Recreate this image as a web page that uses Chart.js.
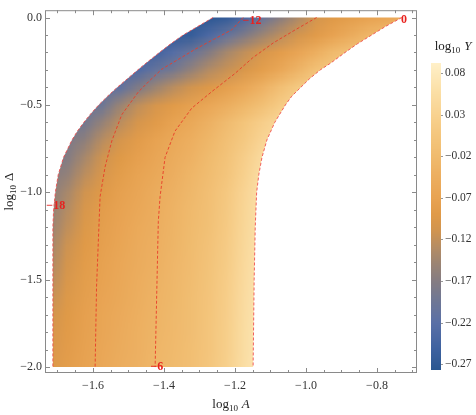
<!DOCTYPE html>
<html>
<head>
<meta charset="utf-8">
<script src="https://cdn.jsdelivr.net/npm/chart.js@4.4.1/dist/chart.umd.min.js"></script>
<style>
html, body { margin: 0; padding: 0; background: #fff; }
</style>
</head>
<body>
<canvas id="myChart" width="476" height="415"></canvas>
<script>
// columns: log10 A, rows: log10 Delta
var gridA = [-1.725, -1.675, -1.625, -1.575, -1.525, -1.475, -1.425, -1.375, -1.325, -1.275, -1.225,
	-1.175, -1.125, -1.075, -1.025, -0.975, -0.925, -0.875, -0.825, -0.775, -0.725];
var gridD = [0, -0.1, -0.2, -0.3, -0.4, -0.5, -0.6, -0.7, -0.8, -0.9, -1.0,
	-1.1, -1.2, -1.3, -1.4, -1.5, -1.6, -1.7, -1.8, -1.9, -2.0];
var _ = null;
// log10 Y (null = outside the region)
var logY = [
	[_, _, _, _, _, _, _, _, _, -0.27, -0.262, -0.235, -0.2, -0.165, -0.135, -0.105, -0.09, -0.08, -0.07, -0.06, -0.05],
	[_, _, _, _, _, _, _, -0.265, -0.26, -0.235, -0.205, -0.175, -0.148, -0.125, -0.105, -0.087, -0.07, -0.05, -0.03, -0.02, _],
	[_, _, _, _, _, _, -0.245, -0.225, -0.2, -0.17, -0.14, -0.12, -0.1, -0.083, -0.065, -0.043, -0.02, -0.005, _, _, _],
	[_, _, _, _, _, -0.23, -0.205, -0.185, -0.155, -0.13, -0.115, -0.098, -0.08, -0.058, -0.032, -0.005, 0.01, _, _, _, _],
	[_, _, _, -0.215, -0.21, -0.175, -0.148, -0.125, -0.108, -0.093, -0.077, -0.058, -0.036, -0.01, 0.013, 0.022, _, _, _, _, _],
	[_, _, -0.2, -0.195, -0.15, -0.122, -0.103, -0.088, -0.074, -0.06, -0.045, -0.028, -0.008, 0.015, 0.032, _, _, _, _, _, _],
	[_, -0.19, -0.188, -0.155, -0.125, -0.103, -0.087, -0.071, -0.056, -0.039, -0.019, 0.002, 0.022, 0.04, _, _, _, _, _, _, _],
	[_, -0.18, -0.162, -0.127, -0.102, -0.085, -0.07, -0.056, -0.043, -0.028, -0.008, 0.012, 0.035, 0.045, _, _, _, _, _, _, _],
	[-0.175, -0.172, -0.14, -0.11, -0.091, -0.076, -0.063, -0.05, -0.036, -0.02, -0.001, 0.022, 0.048, 0.052, _, _, _, _, _, _, _],
	[-0.17, -0.157, -0.124, -0.099, -0.082, -0.068, -0.056, -0.044, -0.03, -0.015, 0.004, 0.028, 0.055, _, _, _, _, _, _, _, _],
	[-0.165, -0.14, -0.11, -0.09, -0.075, -0.062, -0.05, -0.038, -0.025, -0.01, 0.01, 0.035, 0.06, _, _, _, _, _, _, _, _],
	[-0.16, -0.13, -0.1, -0.083, -0.07, -0.058, -0.047, -0.035, -0.022, -0.008, 0.012, 0.038, 0.062, _, _, _, _, _, _, _, _],
	[-0.155, -0.122, -0.095, -0.079, -0.067, -0.055, -0.044, -0.033, -0.02, -0.006, 0.014, 0.04, 0.063, _, _, _, _, _, _, _, _],
	[-0.147, -0.113, -0.09, -0.076, -0.064, -0.052, -0.042, -0.031, -0.018, -0.004, 0.016, 0.043, 0.065, _, _, _, _, _, _, _, _],
	[-0.14, -0.106, -0.086, -0.073, -0.061, -0.05, -0.04, -0.029, -0.017, -0.002, 0.018, 0.045, 0.067, _, _, _, _, _, _, _, _],
	[-0.13, -0.1, -0.082, -0.07, -0.058, -0.047, -0.037, -0.027, -0.015, 0.0, 0.02, 0.048, 0.07, _, _, _, _, _, _, _, _],
	[-0.12, -0.095, -0.079, -0.067, -0.056, -0.045, -0.035, -0.026, -0.014, 0.001, 0.021, 0.05, 0.071, _, _, _, _, _, _, _, _],
	[-0.11, -0.091, -0.076, -0.064, -0.054, -0.043, -0.033, -0.024, -0.013, 0.002, 0.022, 0.051, 0.072, _, _, _, _, _, _, _, _],
	[-0.104, -0.088, -0.074, -0.062, -0.052, -0.041, -0.031, -0.023, -0.012, 0.003, 0.023, 0.053, 0.073, _, _, _, _, _, _, _, _],
	[-0.099, -0.085, -0.072, -0.06, -0.05, -0.04, -0.03, -0.021, -0.011, 0.004, 0.024, 0.054, 0.074, _, _, _, _, _, _, _, _],
	[-0.095, -0.082, -0.07, -0.058, -0.048, -0.038, -0.028, -0.02, -0.01, 0.005, 0.025, 0.055, 0.075, _, _, _, _, _, _, _, _]
];

// contour lines, [log10 A, log10 Delta], top to bottom
var edgeLeft = [[-1.262, 0], [-1.304, -0.05], [-1.346, -0.1], [-1.381, -0.15], [-1.413, -0.2], [-1.444, -0.25],
	[-1.474, -0.3], [-1.503, -0.35], [-1.532, -0.4], [-1.559, -0.45], [-1.584, -0.5], [-1.606, -0.55], [-1.626, -0.6],
	[-1.644, -0.65], [-1.659, -0.7], [-1.683, -0.8], [-1.698, -0.9], [-1.706, -1.0], [-1.711, -1.1], [-1.713, -1.2],
	[-1.713, -2.0]];
var edgeRight = [[-0.73, 0], [-0.775, -0.05], [-0.815, -0.1], [-0.855, -0.15], [-0.89, -0.2], [-0.93, -0.26],
	[-0.96, -0.3], [-0.99, -0.35], [-1.015, -0.4], [-1.04, -0.45], [-1.058, -0.5], [-1.088, -0.6], [-1.11, -0.7],
	[-1.124, -0.8], [-1.133, -0.9], [-1.139, -1.0], [-1.143, -1.2], [-1.146, -1.5], [-1.149, -2.0]];
var contour12 = [[-1.177, 0], [-1.209, -0.07], [-1.26, -0.125], [-1.313, -0.182], [-1.36, -0.24], [-1.406, -0.295],
	[-1.44, -0.36], [-1.472, -0.425], [-1.519, -0.556], [-1.547, -0.706], [-1.566, -0.855], [-1.58, -1.024],
	[-1.59, -1.54], [-1.594, -2.0]];
var contour6 = [[-0.97, 0], [-1.03, -0.07], [-1.092, -0.145], [-1.15, -0.23], [-1.2, -0.32], [-1.266, -0.425],
	[-1.322, -0.519], [-1.369, -0.65], [-1.397, -0.8], [-1.411, -1.024], [-1.416, -1.166], [-1.425, -2.0]];
var contourLabels = [
	{text: '\u221218', A: -1.705, D: -1.08},
	{text: '\u221212', A: -1.152, D: -0.02},
	{text: '\u22126', A: -1.42, D: -2.0},
	{text: '0', A: -0.724, D: -0.014}
];

var xTicks = [-1.6, -1.4, -1.2, -1.0, -0.8];
var yTicks = [0, -0.5, -1.0, -1.5, -2.0];
var barTicks = [0.08, 0.03, -0.02, -0.07, -0.12, -0.17, -0.22, -0.27];
var barRange = [-0.277, 0.092];

// colour scale, value -> rgb
var colorStops = [
	[-0.277, [42, 86, 144]], [-0.25, [63, 98, 160]], [-0.22, [90, 112, 166]], [-0.19, [114, 120, 146]],
	[-0.17, [133, 124, 130]], [-0.15, [154, 132, 116]], [-0.13, [180, 140, 100]], [-0.11, [208, 148, 80]],
	[-0.09, [224, 154, 72]], [-0.07, [232, 163, 82]], [-0.04, [237, 176, 98]], [-0.02, [240, 187, 110]],
	[0.01, [245, 200, 128]], [0.03, [248, 210, 144]], [0.06, [251, 224, 168]], [0.092, [255, 240, 200]]
];

function colorOf(v){
	if(v <= colorStops[0][0]) return colorStops[0][1];
	for(var i = 1; i < colorStops.length; i++){
		if(v <= colorStops[i][0]){
			var a = colorStops[i-1], b = colorStops[i];
			var t = (v - a[0]) / (b[0] - a[0]);
			return [0,1,2].map(function(k){ return Math.round(a[1][k] + t*(b[1][k]-a[1][k])); });
		}
	}
	return colorStops[colorStops.length-1][1];
}

function fmt(v, d){
	var s = Math.abs(v) < 1e-9 ? (0).toFixed(d) : v.toFixed(d);
	return s.replace('-', '\u2212');
}

// small image of the grid, one pixel per cell
function buildFieldImage(){
	var w = gridA.length, h = gridD.length;
	var off = document.createElement('canvas');
	off.width = w; off.height = h;
	var octx = off.getContext('2d');
	var img = octx.createImageData(w, h);
	for(var r = 0; r < h; r++){
		for(var c = 0; c < w; c++){
			var v = logY[r][c];
			if(v == null){
				// nearest filled cell in the row
				for(var k = 1; k < w && v == null; k++){
					if(c-k >= 0 && logY[r][c-k] != null) v = logY[r][c-k];
					else if(c+k < w && logY[r][c+k] != null) v = logY[r][c+k];
				}
			}
			var col = colorOf(v);
			var i = (r*w + c)*4;
			img.data[i] = col[0]; img.data[i+1] = col[1]; img.data[i+2] = col[2]; img.data[i+3] = 255;
		}
	}
	octx.putImageData(img, 0, 0);
	return off;
}
var fieldImage = buildFieldImage();

var serif = "'Liberation Serif', 'DejaVu Serif', serif";

function drawLogLabel(ctx, x, y, sym, size, italic){
	// "log" with subscript 10 and the symbol, centred on x
	var symFont = (italic ? 'italic ' : '') + size + 'px ' + serif;
	ctx.font = size + 'px ' + serif;
	var w1 = ctx.measureText('log').width;
	ctx.font = Math.round(size*0.7) + 'px ' + serif;
	var w2 = ctx.measureText('10').width;
	ctx.font = symFont;
	var w3 = ctx.measureText(sym).width;
	var gap = size*0.3;
	var x0 = x - (w1 + w2 + gap + w3)/2;
	ctx.textAlign = 'left';
	ctx.textBaseline = 'alphabetic';
	ctx.font = size + 'px ' + serif;
	ctx.fillText('log', x0, y);
	ctx.font = Math.round(size*0.7) + 'px ' + serif;
	ctx.fillText('10', x0 + w1, y + size*0.25);
	ctx.font = symFont;
	ctx.fillText(sym, x0 + w1 + w2 + gap, y);
}

var fieldPlugin = {
	id: 'field',
	beforeDatasetsDraw: function(chart){
		var ctx = chart.ctx, xs = chart.scales.x, ys = chart.scales.y;
		ctx.save();
		ctx.beginPath();
		edgeLeft.forEach(function(p, i){
			var X = xs.getPixelForValue(p[0]), Y = ys.getPixelForValue(p[1]);
			if(i == 0) ctx.moveTo(X, Y); else ctx.lineTo(X, Y);
		});
		edgeRight.slice().reverse().forEach(function(p){
			ctx.lineTo(xs.getPixelForValue(p[0]), ys.getPixelForValue(p[1]));
		});
		ctx.closePath();
		ctx.clip();
		ctx.imageSmoothingEnabled = true;
		var hx = (gridA[1]-gridA[0])/2, hy = (gridD[0]-gridD[1])/2;
		var x0 = xs.getPixelForValue(gridA[0]-hx), x1 = xs.getPixelForValue(gridA[gridA.length-1]+hx);
		var y0 = ys.getPixelForValue(gridD[0]+hy), y1 = ys.getPixelForValue(gridD[gridD.length-1]-hy);
		ctx.drawImage(fieldImage, x0, y0, x1-x0, y1-y0);
		ctx.restore();
	},
	afterDraw: function(chart){
		var ctx = chart.ctx, xs = chart.scales.x, ys = chart.scales.y, a = chart.chartArea;
		ctx.save();

		// contour labels
		ctx.fillStyle = '#e8221e';
		ctx.font = 'bold 12px ' + serif;
		ctx.textAlign = 'center';
		ctx.textBaseline = 'middle';
		contourLabels.forEach(function(l){
			ctx.fillText(l.text, xs.getPixelForValue(l.A), ys.getPixelForValue(l.D));
		});

		// frame with inward ticks
		ctx.strokeStyle = '#8a8a8a';
		ctx.lineWidth = 1;
		ctx.strokeRect(a.left + 0.5, a.top + 0.5, a.right - a.left - 1, a.bottom - a.top - 1);
		ctx.beginPath();
		for(var i = -34; i <= -14; i++){
			var v = i*0.05, X = Math.round(xs.getPixelForValue(v)) + 0.5;
			var major = xTicks.some(function(t){ return Math.abs(t - v) < 1e-6; });
			var len = major ? 5 : 3;
			ctx.moveTo(X, a.bottom); ctx.lineTo(X, a.bottom - len);
			ctx.moveTo(X, a.top); ctx.lineTo(X, a.top + len);
		}
		for(var j = 0; j <= 20; j++){
			var w = -j*0.1, Y = Math.round(ys.getPixelForValue(w)) + 0.5;
			var majorY = yTicks.some(function(t){ return Math.abs(t - w) < 1e-6; });
			var lenY = majorY ? 5 : 3;
			ctx.moveTo(a.left, Y); ctx.lineTo(a.left + lenY, Y);
			ctx.moveTo(a.right, Y); ctx.lineTo(a.right - lenY, Y);
		}
		ctx.stroke();

		// axis titles
		ctx.fillStyle = '#222';
		drawLogLabel(ctx, (a.left + a.right)/2, 408, 'A', 13, true);
		ctx.save();
		ctx.translate(13, (a.top + a.bottom)/2);
		ctx.rotate(-Math.PI/2);
		drawLogLabel(ctx, 0, 0, '\u0394', 13, false);
		ctx.restore();

		// colour bar
		var bx = 431, bw = 10, btop = 63, bbot = 370;
		function barY(v){ return bbot - (v - barRange[0])/(barRange[1]-barRange[0])*(bbot-btop); }
		for(var yy = btop; yy < bbot; yy++){
			var val = barRange[1] - (yy + 0.5 - btop)/(bbot-btop)*(barRange[1]-barRange[0]);
			var c = colorOf(val);
			ctx.fillStyle = 'rgb(' + c[0] + ',' + c[1] + ',' + c[2] + ')';
			ctx.fillRect(bx, yy, bw, 1);
		}
		ctx.strokeStyle = '#999';
		ctx.beginPath();
		barTicks.forEach(function(t){
			var Y = Math.round(barY(t)) + 0.5;
			ctx.moveTo(bx + bw, Y); ctx.lineTo(bx + bw + 2, Y);
		});
		ctx.stroke();
		ctx.fillStyle = '#333';
		ctx.font = '11.5px ' + serif;
		ctx.textAlign = 'left';
		ctx.textBaseline = 'middle';
		barTicks.forEach(function(t){
			ctx.fillText(fmt(t, 2), bx + bw + 4, barY(t));
		});
		ctx.fillStyle = '#222';
		drawLogLabel(ctx, 453, 50, 'Y', 13, true);
		ctx.restore();
	}
};

function lineSet(pts, color){
	return {
		data: pts.map(function(p){ return {x: p[0], y: p[1]}; }),
		showLine: true,
		borderColor: color,
		borderWidth: 1,
		borderDash: [3, 2],
		pointRadius: 0,
		fill: false
	};
}

var ctx = document.getElementById('myChart');
var myChart = new Chart(ctx, {
	type: 'scatter',
	data: {
		datasets: [
			lineSet(edgeLeft, 'rgba(240,80,80,0.9)'),
			lineSet(edgeRight, 'rgba(240,80,80,0.9)'),
			lineSet(contour12, 'rgba(232,60,40,0.9)'),
			lineSet(contour6, 'rgba(232,60,40,0.9)')
		]
	},
	options: {
		responsive: false,
		animation: false,
		devicePixelRatio: 1,
		layout: { padding: { left: 0, right: 59, top: 3, bottom: 0 } },
		plugins: {
			legend: { display: false },
			tooltip: { enabled: false }
		},
		scales: {
			x: {
				type: 'linear',
				min: -1.7352,
				max: -0.6873,
				afterBuildTicks: function(s){ s.ticks = xTicks.map(function(v){ return {value: v}; }); },
				afterFit: function(s){ s.height = 42; },
				ticks: {
					autoSkip: false,
					maxRotation: 0,
					padding: 6,
					color: '#333',
					font: { family: serif, size: 12 },
					callback: function(v){ return fmt(v, 1); }
				},
				grid: { display: false, drawTicks: false },
				border: { display: false }
			},
			y: {
				type: 'linear',
				min: -2.034,
				max: 0.042,
				afterBuildTicks: function(s){ s.ticks = yTicks.map(function(v){ return {value: v}; }); },
				afterFit: function(s){ s.width = 45; },
				ticks: {
					autoSkip: false,
					padding: 3,
					color: '#333',
					font: { family: serif, size: 12 },
					callback: function(v){ return fmt(v, 1); }
				},
				grid: { display: false, drawTicks: false },
				border: { display: false }
			}
		}
	},
	plugins: [fieldPlugin]
});
</script>
</body>
</html>
